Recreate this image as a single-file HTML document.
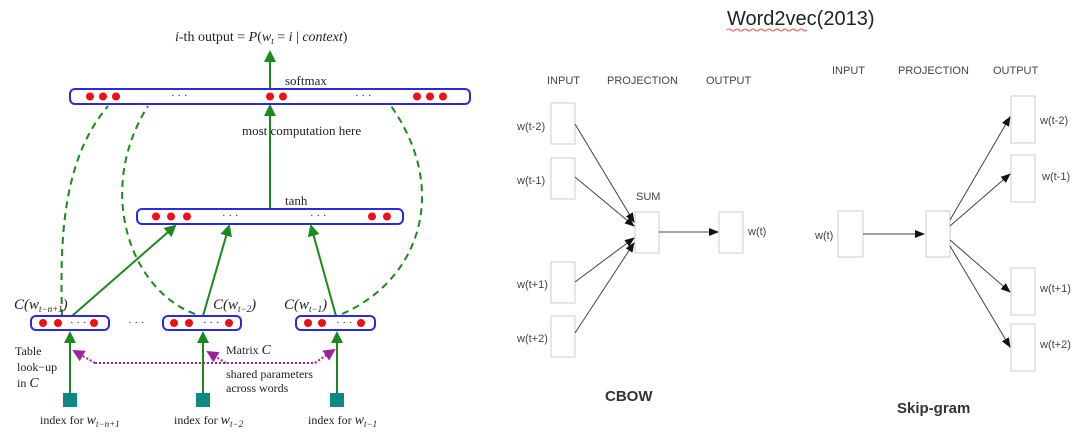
<!DOCTYPE html>
<html><head><meta charset="utf-8"><style>
html,body{margin:0;padding:0;background:#fff;}
svg{display:block;}
.s{font-family:"Liberation Serif",serif;fill:#222;}
.a{font-family:"Liberation Sans",sans-serif;fill:#444;}
</style></head><body>
<svg width="1080" height="436" viewBox="0 0 1080 436" xmlns="http://www.w3.org/2000/svg">
<defs>
<marker id="g" markerWidth="6" markerHeight="6" refX="5" refY="3" orient="auto"><path d="M0,0L6,3L0,6z" fill="#1a8a1a"/></marker>
<marker id="k" markerWidth="10" markerHeight="8" refX="9" refY="4" orient="auto" markerUnits="userSpaceOnUse"><path d="M0,0L10,4L0,8z" fill="#111"/></marker>
<marker id="p" markerWidth="6" markerHeight="6" refX="5" refY="3" orient="auto"><path d="M0,0L6,3L0,6z" fill="#a020a0"/></marker>
</defs>
<!-- left diagram -->
<text x="175" y="41" class="s" font-size="14"><tspan font-style="italic">i</tspan>-th output = <tspan font-style="italic">P</tspan>(<tspan font-style="italic">w<tspan font-size="9" dy="3">t</tspan></tspan><tspan dy="-3"> = </tspan><tspan font-style="italic">i</tspan> | <tspan font-style="italic">context</tspan>)</text>
<g stroke="#1a8a1a" stroke-width="2" fill="none">
<line x1="270" y1="89" x2="270" y2="52" marker-end="url(#g)"/>
<line x1="270" y1="209" x2="270" y2="106" marker-end="url(#g)"/>
<line x1="72" y1="316" x2="175" y2="226" marker-end="url(#g)"/>
<line x1="203" y1="316" x2="229" y2="226" marker-end="url(#g)"/>
<line x1="336" y1="316" x2="311" y2="226" marker-end="url(#g)"/>
<line x1="70" y1="393" x2="70" y2="333" marker-end="url(#g)"/>
<line x1="203" y1="393" x2="203" y2="333" marker-end="url(#g)"/>
<line x1="337" y1="393" x2="337" y2="333" marker-end="url(#g)"/>
</g>
<g stroke="#1a8a1a" stroke-width="2" fill="none" stroke-dasharray="7,5">
<path d="M62,316 C60,240 62,160 108,106"/>
<path d="M195,314 C130,290 95,190 148,106"/>
<path d="M342,314 C420,280 450,190 391,106"/>
</g>
<g stroke="#2a2ae0" stroke-width="2" fill="#fff">
<rect x="70" y="89" width="400" height="15" rx="5"/>
<rect x="137" y="209" width="266" height="15" rx="5"/>
<rect x="31" y="316" width="78" height="14" rx="5"/>
<rect x="163" y="316" width="78" height="14" rx="5"/>
<rect x="296" y="316" width="79" height="14" rx="5"/>
</g>
<g fill="#f01010">
<circle cx="90" cy="96.5" r="4"/><circle cx="103" cy="96.5" r="4"/><circle cx="116" cy="96.5" r="4"/>
<circle cx="270" cy="96.5" r="4"/><circle cx="283" cy="96.5" r="4"/>
<circle cx="417" cy="96.5" r="4"/><circle cx="430" cy="96.5" r="4"/><circle cx="443" cy="96.5" r="4"/>
<circle cx="156" cy="216.5" r="4"/><circle cx="171" cy="216.5" r="4"/><circle cx="187" cy="216.5" r="4"/>
<circle cx="372" cy="216.5" r="4"/><circle cx="387" cy="216.5" r="4"/>
<circle cx="43" cy="323" r="4"/><circle cx="58" cy="323" r="4"/><circle cx="94" cy="323" r="4"/>
<circle cx="174" cy="323" r="4"/><circle cx="189" cy="323" r="4"/><circle cx="229" cy="323" r="4"/>
<circle cx="308" cy="323" r="4"/><circle cx="322" cy="323" r="4"/><circle cx="361" cy="323" r="4"/>
</g>
<g class="s" font-size="11">
<text x="171" y="99">· · ·</text><text x="355" y="99">· · ·</text>
<text x="222" y="219">· · ·</text><text x="310" y="219">· · ·</text>
<text x="70" y="326">· · ·</text><text x="203" y="326">· · ·</text><text x="336" y="326">· · ·</text>
<text x="128" y="326">· · ·</text>
</g>
<text x="285" y="85" class="s" font-size="13">softmax</text>
<text x="242" y="135" class="s" font-size="13">most  computation here</text>
<text x="285" y="205" class="s" font-size="13">tanh</text>
<g class="s" font-size="15" font-style="italic">
<text x="14" y="309">C(w<tspan font-size="9" dy="3">t−n+1</tspan><tspan dy="-3">)</tspan></text>
<text x="213" y="309">C(w<tspan font-size="9" dy="3">t−2</tspan><tspan dy="-3">)</tspan></text>
<text x="284" y="309">C(w<tspan font-size="9" dy="3">t−1</tspan><tspan dy="-3">)</tspan></text>
</g>
<g fill="#0d8a86">
<rect x="63" y="393" width="14" height="14"/><rect x="196" y="393" width="14" height="14"/><rect x="330" y="393" width="14" height="14"/>
</g>
<g class="s" font-size="12">
<text x="15" y="355">Table</text><text x="17" y="371">look−up</text><text x="17" y="387">in <tspan font-style="italic" font-size="14">C</tspan></text>
<text x="226" y="354">Matrix <tspan font-style="italic" font-size="14">C</tspan></text>
<text x="226" y="378">shared parameters</text><text x="226" y="392">across words</text>
<text x="40" y="424">index for <tspan font-style="italic" font-size="14">w<tspan font-size="9" dy="3">t−n+1</tspan></tspan></text>
<text x="174" y="424">index for <tspan font-style="italic" font-size="14">w<tspan font-size="9" dy="3">t−2</tspan></tspan></text>
<text x="308" y="424">index for <tspan font-style="italic" font-size="14">w<tspan font-size="9" dy="3">t−1</tspan></tspan></text>
</g>
<g stroke="#a020a0" stroke-width="2" fill="none" stroke-dasharray="2,2">
<path d="M95,363 L74,351" marker-end="url(#p)"/>
<path d="M95,363 L315,363 L334,350" marker-end="url(#p)"/>
<path d="M226,363 L208,352" marker-end="url(#p)"/>
</g>
<!-- right -->
<text x="727" y="25" font-family="Liberation Sans,sans-serif" font-size="20" fill="#222">Word2vec(2013)</text>
<path d="M727,30 q2,-2 4,0 t4,0 t4,0 t4,0 t4,0 t4,0 t4,0 t4,0 t4,0 t4,0 t4,0 t4,0 t4,0 t4,0 t4,0 t4,0 t4,0 t4,0 t4,0 t4,0" stroke="#e05050" stroke-width="1" fill="none"/>
<g class="a" font-size="11">
<text x="547" y="84">INPUT</text><text x="607" y="84">PROJECTION</text><text x="706" y="84">OUTPUT</text>
<text x="832" y="74">INPUT</text><text x="898" y="74">PROJECTION</text><text x="993" y="74">OUTPUT</text>
<text x="636" y="200">SUM</text>
<text x="517" y="130">w(t-2)</text><text x="517" y="184">w(t-1)</text><text x="517" y="288">w(t+1)</text><text x="517" y="342">w(t+2)</text>
<text x="748" y="235">w(t)</text>
<text x="815" y="239">w(t)</text>
<text x="1040" y="124">w(t-2)</text><text x="1042" y="180">w(t-1)</text><text x="1040" y="292">w(t+1)</text><text x="1040" y="348">w(t+2)</text>
</g>
<g fill="#fff" stroke="#ccc" stroke-width="1">
<rect x="551" y="103" width="24" height="41"/><rect x="551" y="158" width="24" height="41"/>
<rect x="551" y="262" width="24" height="41"/><rect x="551" y="316" width="24" height="41"/>
<rect x="635" y="212" width="24" height="41"/><rect x="719" y="212" width="24" height="41"/>
<rect x="838" y="211" width="25" height="46"/><rect x="926" y="211" width="24" height="46"/>
<rect x="1011" y="96" width="24" height="47"/><rect x="1011" y="155" width="24" height="47"/>
<rect x="1011" y="268" width="24" height="47"/><rect x="1011" y="324" width="24" height="47"/>
</g>
<g stroke="#444" stroke-width="1" fill="none">
<line x1="575" y1="124" x2="634" y2="222" marker-end="url(#k)"/>
<line x1="575" y1="177" x2="634" y2="226" marker-end="url(#k)"/>
<line x1="575" y1="282" x2="634" y2="238" marker-end="url(#k)"/>
<line x1="575" y1="333" x2="634" y2="243" marker-end="url(#k)"/>
<line x1="659" y1="232" x2="718" y2="232" marker-end="url(#k)"/>
<line x1="863" y1="234" x2="924" y2="234" marker-end="url(#k)"/>
<line x1="950" y1="220" x2="1010" y2="117" marker-end="url(#k)"/>
<line x1="950" y1="226" x2="1010" y2="174" marker-end="url(#k)"/>
<line x1="950" y1="240" x2="1010" y2="292" marker-end="url(#k)"/>
<line x1="950" y1="246" x2="1010" y2="347" marker-end="url(#k)"/>
</g>
<text x="605" y="401" font-family="Liberation Sans,sans-serif" font-weight="bold" font-size="15" fill="#333">CBOW</text>
<text x="897" y="413" font-family="Liberation Sans,sans-serif" font-weight="bold" font-size="15" fill="#333">Skip-gram</text>
</svg>
</body></html>
